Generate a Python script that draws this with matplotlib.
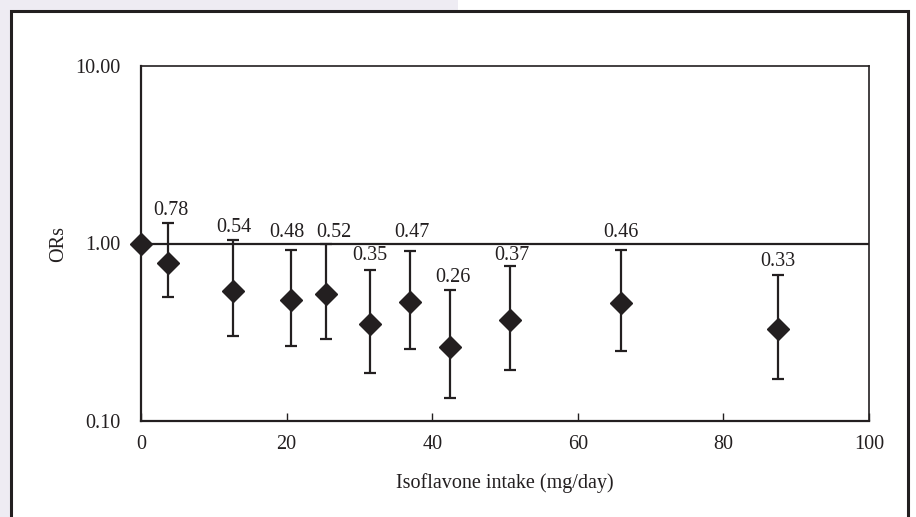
import matplotlib.pyplot as plt
from matplotlib.patches import Rectangle
from matplotlib.ticker import FixedLocator, NullLocator

plt.rcParams['font.family'] = ['Liberation Serif', 'DejaVu Serif']

# isoflavone intake (mg/day), odds ratios and 95% CI
intake = [0, 3.7, 12.7, 20.6, 25.4, 31.4, 36.9, 42.4, 50.7, 65.9, 87.5]
ors = [1.00, 0.78, 0.54, 0.48, 0.52, 0.35, 0.47, 0.26, 0.37, 0.46, 0.33]
ci_low = [1.00, 0.50, 0.30, 0.265, 0.29, 0.186, 0.255, 0.134, 0.195, 0.249, 0.173]
ci_high = [1.00, 1.31, 1.04, 0.92, 1.00, 0.71, 0.91, 0.55, 0.75, 0.92, 0.665]
labels = ['', '0.78', '0.54', '0.48', '0.52', '0.35', '0.47', '0.26', '0.37', '0.46', '0.33']
xticks = [0, 20, 40, 60, 80, 100]
yticks = [0.1, 1, 10]

# label placement above each upper CI cap (points), as in the original figure
lab_dx = [0, 2, 0, -3, 6, 0, 1.5, 2, 1, 0, 0]
lab_dy = [0, 8.5, 9, 12.5, 8, 10.5, 13.5, 8.5, 7.5, 12.5, 10]

ink = '#231f20'
fs = 14.5

fig = plt.figure(figsize=(9.16, 5.17), dpi=100)
fig.patch.set_facecolor('white')
# light page background on the left and top, with the boxed frame
fig.patches.append(Rectangle((0, 0), 11 / 916, 1, transform=fig.transFigure,
                             facecolor='#eeecf3', edgecolor='none', zorder=0))
fig.patches.append(Rectangle((0, 1 - 11 / 517), 0.5, 11 / 517, transform=fig.transFigure,
                             facecolor='#eeecf3', edgecolor='none', zorder=0))
fig.patches.append(Rectangle((11 / 916, -0.05), 897 / 916, 1.05 - 11 / 517,
                             transform=fig.transFigure, facecolor='none',
                             edgecolor=ink, linewidth=2.2, zorder=1))

ax = fig.add_axes([141 / 916, 1 - 421 / 517, 728 / 916, 355 / 517])
ax.set_yscale('log')
ax.set_xlim(0, 100)
ax.set_ylim(0.1, 10)

ax.axhline(1.0, color=ink, linewidth=1.6, zorder=2)

yerr_lo = [o - l for o, l in zip(ors, ci_low)]
yerr_hi = [h - o for o, h in zip(ors, ci_high)]
ax.errorbar(intake[1:], ors[1:], yerr=[yerr_lo[1:], yerr_hi[1:]], fmt='none',
            ecolor=ink, elinewidth=1.6, capsize=4, capthick=1.6, zorder=3)
ax.plot(intake, ors, linestyle='none', marker='D', markersize=11,
        color=ink, clip_on=False, zorder=4)

for x, hi, lab, dx, dy in zip(intake, ci_high, labels, lab_dx, lab_dy):
    if lab:
        ax.annotate(lab, (x, hi), xytext=(dx, dy), textcoords='offset points',
                    ha='center', va='center', fontsize=fs, color=ink)

ax.xaxis.set_major_locator(FixedLocator(xticks))
ax.yaxis.set_major_locator(FixedLocator(yticks))
ax.yaxis.set_minor_locator(NullLocator())
ax.set_yticklabels([f'{v:.2f}' for v in yticks])
ax.tick_params(axis='both', direction='in', length=6, width=1, colors=ink,
               labelsize=fs, pad=10)
ax.tick_params(axis='y', length=0, pad=15)

for side in ['left', 'bottom']:
    ax.spines[side].set_linewidth(1.6)
    ax.spines[side].set_color(ink)
for side in ['top', 'right']:
    ax.spines[side].set_linewidth(1.2)
    ax.spines[side].set_color(ink)

ax.set_xlabel('Isoflavone intake (mg/day)', fontsize=fs, color=ink, labelpad=14)
ax.set_ylabel('ORs', fontsize=fs, color=ink, labelpad=5)

fig.savefig('out.png', dpi=100)
